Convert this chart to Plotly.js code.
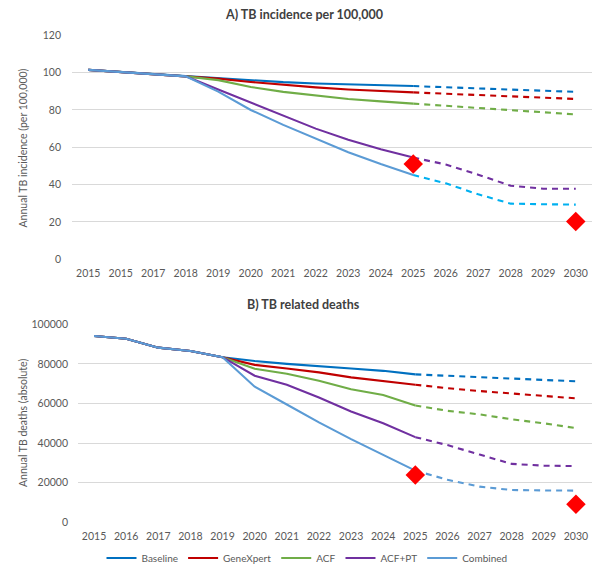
<!DOCTYPE html>
<html>
<head>
<meta charset="utf-8">
<script src="https://cdn.plot.ly/plotly-3.0.1.min.js"></script>
<style>html,body{margin:0;padding:0;background:#fff;}#chart{width:596px;height:564px;}</style>
</head>
<body>
<div id="chart"></div>
<script>
// ---- data ----
const years = [2015,2016,2017,2018,2019,2020,2021,2022,2023,2024,2025,2026,2027,2028,2029,2030];
const topTickText = ["2015","2015","2017","2018","2019","2020","2021","2022","2023","2024","2025","2026","2027","2028","2029","2030"];
const bottomTickText = ["2015","2016","2017","2018","2019","2020","2021","2022","2023","2024","2025","2026","2027","2028","2029","2030"];
const seriesNames = ["Baseline","GeneXpert","ACF","ACF+PT","Combined"];

// A) TB incidence per 100,000
const incBaseline   = [101.5,100.4,99.2,98.0,97.0,95.8,94.9,94.2,93.7,93.2,92.8,92.1,91.5,90.9,90.3,89.7];
const incGeneXpert  = [101.5,100.4,99.2,98.0,96.8,95.0,93.4,92.1,91.0,90.1,89.4,88.7,88.0,87.3,86.6,85.9];
const incACF        = [101.5,100.4,99.2,98.0,96.0,92.3,89.7,87.6,85.9,84.6,83.4,82.2,81.0,79.9,78.7,77.6];
const incACFPT      = [101.5,100.4,99.2,98.0,91.0,84.0,77.0,70.0,64.0,59.0,54.5,50.8,45.3,39.4,37.8,37.8];
const incCombined   = [101.5,100.4,99.2,98.0,89.8,80.0,72.0,64.5,57.3,51.0,45.2,40.7,34.8,29.8,29.5,29.3];
const incTargetYears = [2025,2030];
const incTargets     = [51.0,20.3];

// B) TB related deaths
const deathBaseline  = [94100,92700,88200,86500,83400,81500,80000,79000,77700,76500,74700,74000,73500,72900,72200,71200];
const deathGeneXpert = [94100,92700,88200,86500,83400,79500,77700,75700,73200,71500,69500,67700,66300,65100,64100,62600];
const deathACF       = [94100,92700,88200,86500,83400,77500,75000,71500,67200,64300,59000,56300,54500,52000,50000,47600];
const deathACFPT     = [94100,92700,88200,86500,83400,74000,69500,63000,56000,50000,43000,39000,34200,29500,28600,28400];
const deathCombined  = [94100,92700,88200,86500,83400,68500,59500,50500,42000,34000,26100,21500,18000,16300,16100,16000];
const deathTargetYears = [2025,2030];
const deathTargets     = [23900,9100];

// ---- styles ----
const solidColors = ["#0070C0","#C00000","#70AD47","#7030A0","#5B9BD5"];
const dashColorsTop = ["#0070C0","#C00000","#70AD47","#7030A0","#00B0F0"];
const dashColorsBottom = ["#0070C0","#C00000","#70AD47","#7030A0","#5B9BD5"];
const FONT = "Lato, 'Open Sans', sans-serif";
const GREY = "#595959";

const incSeries = [incBaseline,incGeneXpert,incACF,incACFPT,incCombined];
const deathSeries = [deathBaseline,deathGeneXpert,deathACF,deathACFPT,deathCombined];
const splitIdx = years.indexOf(2025);

const traces = [];
function addChart(series, dashColors, xa, ya, legend, tYears, tVals){
  series.forEach((vals,i)=>{
    traces.push({
      x: years.slice(0,splitIdx+1), y: vals.slice(0,splitIdx+1),
      xaxis: xa, yaxis: ya, mode: 'lines', name: seriesNames[i],
      line: {color: solidColors[i], width: 2.1},
      showlegend: legend
    });
  });
  series.forEach((vals,i)=>{
    traces.push({
      x: years.slice(splitIdx), y: vals.slice(splitIdx),
      xaxis: xa, yaxis: ya, mode: 'lines', name: seriesNames[i],
      line: {color: dashColors[i], width: 2.1, dash: '6px,5px'},
      showlegend: false
    });
  });
  traces.push({
    x: tYears, y: tVals, xaxis: xa, yaxis: ya, mode: 'markers', name: 'Target',
    marker: {symbol: 'diamond', color: '#FF0000', size: 15},
    showlegend: false
  });
}
addChart(incSeries, dashColorsTop, 'x', 'y', false, incTargetYears, incTargets);
addChart(deathSeries, dashColorsBottom, 'x2', 'y2', true, deathTargetYears, deathTargets);

const W = 596, H = 564;
const px = v => v / W;
const py = v => (H - v) / H;

const axisCommon = {
  showline: false, zeroline: false, showgrid: true, gridcolor: '#D9D9D9', gridwidth: 1,
  ticks: '', tickfont: {family: FONT, size: 10.5, color: GREY}, fixedrange: true, automargin: false
};

const layout = {
  width: W, height: H,
  margin: {l: 0, r: 0, t: 0, b: 0, autoexpand: false},
  paper_bgcolor: '#fff', plot_bgcolor: '#fff',
  font: {family: FONT, color: GREY},
  showlegend: true,
  legend: {
    orientation: 'h', x: px(307), xanchor: 'center', y: py(558), yanchor: 'middle',
    font: {family: FONT, size: 10, color: GREY}, itemwidth: 30, tracegroupgap: 0,
    bgcolor: 'rgba(0,0,0,0)'
  },
  xaxis: Object.assign({}, axisCommon, {
    domain: [px(72), px(592)], range: [2014.5, 2030.5], anchor: 'y',
    tickvals: years, ticktext: topTickText, showgrid: false, ticklabelstandoff: 6
  }),
  yaxis: Object.assign({}, axisCommon, {
    domain: [py(259.3), py(35.3)], range: [0, 120], anchor: 'x',
    tickvals: [0,20,40,60,80,100,120], ticklabelstandoff: 10
  }),
  xaxis2: Object.assign({}, axisCommon, {
    domain: [px(78), px(592)], range: [2014.5, 2030.5], anchor: 'y2',
    tickvals: years, ticktext: bottomTickText, showgrid: false, ticklabelstandoff: 6
  }),
  yaxis2: Object.assign({}, axisCommon, {
    domain: [py(522.3), py(324.3)], range: [0, 100000], anchor: 'x2',
    tickvals: [0,20000,40000,60000,80000,100000], tickformat: 'd', ticklabelstandoff: 9
  }),
  annotations: [
    {text: '<b>A) TB incidence per 100,000</b>', xref: 'paper', yref: 'paper', x: px(304), y: py(15),
     xanchor: 'center', yanchor: 'middle', showarrow: false, font: {family: FONT, size: 12.5, color: '#404040'}},
    {text: '<b>B) TB related deaths</b>', xref: 'paper', yref: 'paper', x: px(303), y: py(304),
     xanchor: 'center', yanchor: 'middle', showarrow: false, font: {family: FONT, size: 12.5, color: '#404040'}},
    {text: 'Annual TB incidence (per 100,000)', xref: 'paper', yref: 'paper', x: px(22.5), y: py(148),
     xanchor: 'center', yanchor: 'middle', textangle: -90, showarrow: false, font: {family: FONT, size: 10.5, color: GREY}},
    {text: 'Annual TB deaths (absolute)', xref: 'paper', yref: 'paper', x: px(22.5), y: py(423.5),
     xanchor: 'center', yanchor: 'middle', textangle: -90, showarrow: false, font: {family: FONT, size: 10.5, color: GREY}}
  ]
};

Plotly.newPlot('chart', traces, layout, {displayModeBar: false, staticPlot: true});
</script>
</body>
</html>
